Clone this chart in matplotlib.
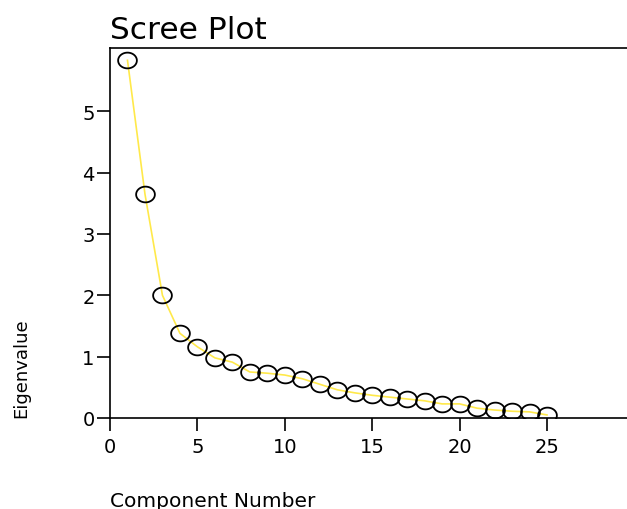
import numpy as np
import matplotlib
matplotlib.use('Agg')
import matplotlib.pyplot as plt
from matplotlib.path import Path

plt.rcParams['font.family'] = 'DejaVu Sans'

# eigenvalues
components = list(range(1, 26))
eigenvalues = [5.83, 3.65, 2.00, 1.38, 1.16, 0.98, 0.91, 0.75, 0.73, 0.70,
               0.64, 0.55, 0.46, 0.41, 0.37, 0.34, 0.31, 0.28, 0.23, 0.23,
               0.16, 0.13, 0.11, 0.10, 0.05]
xticks = [0, 5, 10, 15, 20, 25]
yticks = [0, 1, 2, 3, 4, 5]

W, H = 627, 510
fig = plt.figure(figsize=(W / 100, H / 100), dpi=100)

# axes extends past the right edge like the original
x0, y0 = 110, 419
px_per_x = 17.48
ax = fig.add_axes([x0 / W, (H - y0) / H, (30 * px_per_x) / W, (y0 - 49) / H])
ax.set_xlim(0, 30)
ax.set_ylim(0, 6.03)

# slightly flattened circle marker
t = np.linspace(0, 2 * np.pi, 60)
ellipse = Path(np.column_stack([np.cos(t), 0.84 * np.sin(t)]), closed=True)

ax.plot(components, eigenvalues, color='#FFE94A', lw=1.2, zorder=2)
ax.plot(components, eigenvalues, ls='none', marker=ellipse, markersize=13.5,
        markerfacecolor='none', markeredgecolor='black', markeredgewidth=1.3,
        zorder=3)

for s in ax.spines.values():
    s.set_linewidth(1.2)
ax.spines['right'].set_visible(False)

ax.set_xticks(xticks)
ax.set_yticks(yticks)
ax.tick_params(axis='both', direction='out', length=9.5, width=1.2,
               labelsize=14, colors='black')
ax.tick_params(axis='y', pad=1.5)
ax.tick_params(axis='x', pad=4)

fig.text(x0 / W, (H - 39) / H, 'Scree Plot', fontsize=22.5, ha='left',
         va='baseline')
fig.text(12 / W, (H - 418) / H, 'Eigenvalue', fontsize=13, rotation=90,
         ha='left', va='bottom')
fig.text(x0 / W, (H - 507) / H, 'Component Number', fontsize=14.5,
         ha='left', va='baseline')

fig.savefig('out.png', dpi=100)
